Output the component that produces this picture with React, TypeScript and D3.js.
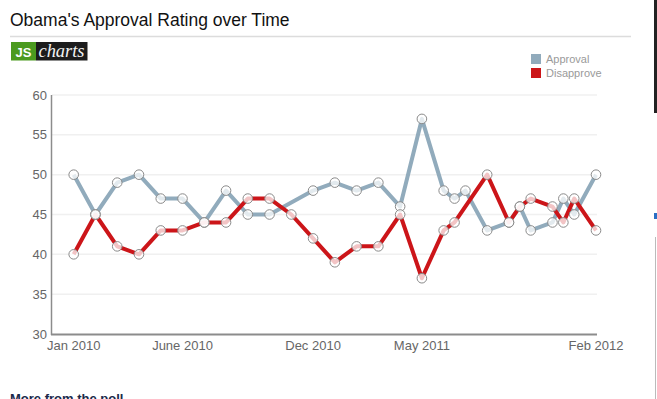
import React from "react";
import * as d3 from "d3";

// x values are month offsets from Jan 2010
const approvalX = [0, 1, 2, 3, 4, 5, 6, 7, 8, 9, 11, 12, 13, 14, 15, 16, 17, 17.5, 18, 19, 20, 20.5, 21, 22, 22.5, 23, 24];
const approvalY = [50, 45, 49, 50, 47, 47, 44, 48, 45, 45, 48, 49, 48, 49, 46, 57, 48, 47, 48, 43, 44, 46, 43, 44, 47, 45, 50];
const disapproveX = [0, 1, 2, 3, 4, 5, 6, 7, 8, 9, 10, 11, 12, 13, 14, 15, 16, 17, 17.5, 19, 20, 20.5, 21, 22, 22.5, 23, 24];
const disapproveY = [40, 45, 41, 40, 43, 43, 44, 44, 47, 47, 45, 42, 39, 41, 41, 45, 37, 43, 44, 50, 44, 46, 47, 46, 44, 47, 43];

const xTickValues = [0, 5, 11, 16, 24];
const xTickLabels = ["Jan 2010", "June 2010", "Dec 2010", "May 2011", "Feb 2012"];
const yTicks = [30, 35, 40, 45, 50, 55, 60];

const seriesNames = ["Approval", "Disapprove"];
const seriesColors = ["#91abbc", "#cc1519"];

export default function App() {
  const x = d3.scaleLinear().domain([0, 24]).range([73.7, 596]);
  const y = d3.scaleLinear().domain([30, 60]).range([334, 95]);
  const line = d3
    .line<[number, number]>()
    .x((d) => x(d[0]))
    .y((d) => y(d[1]));

  const series = [
    approvalX.map((v, i) => [v, approvalY[i]] as [number, number]),
    disapproveX.map((v, i) => [v, disapproveY[i]] as [number, number]),
  ];

  const font = "'Liberation Sans', Arial, sans-serif";

  return (
    <svg
      width={657}
      height={399}
      style={{ position: "absolute", left: 0, top: 0, background: "#fff" }}
      fontFamily={font}
    >
      {/* title */}
      <text x={10} y={26} fontSize={17.5} fill="#111">
        Obama's Approval Rating over Time
      </text>
      <line x1={10} x2={631} y1={36.5} y2={36.5} stroke="#dcdcdc" strokeWidth={1.5} />

      {/* logo */}
      <rect x={11} y={42} width={25} height={18.5} fill="#4b9a1f" />
      <rect x={36} y={42} width={51.5} height={18.5} fill="#1c1c1c" />
      <text x={23.5} y={56.5} fontSize={13} fontWeight="bold" fill="#fff" textAnchor="middle">
        JS
      </text>
      <text
        x={61.5}
        y={57}
        fontSize={18}
        fontStyle="italic"
        fill="#f2f2f2"
        textAnchor="middle"
        textLength={46}
        lengthAdjust="spacingAndGlyphs"
        fontFamily="'Liberation Serif', 'DejaVu Serif', serif"
      >
        charts
      </text>

      {/* legend */}
      {seriesNames.map((n, i) => (
        <g key={n}>
          <rect x={531} y={54 + i * 14} width={10} height={10} fill={seriesColors[i]} />
          <text x={546} y={63 + i * 14} fontSize={11} fill="#9a9a9a">
            {n}
          </text>
        </g>
      ))}

      {/* gridlines */}
      {yTicks.slice(1).map((t) => (
        <line key={t} x1={52} x2={597} y1={y(t)} y2={y(t)} stroke="#f0f0f0" strokeWidth={1.5} />
      ))}

      {/* y axis */}
      <line x1={51.5} x2={51.5} y1={y(60)} y2={y(30) + 1} stroke="#8c8c8c" strokeWidth={1.5} />
      {yTicks.map((t) => (
        <text key={t} x={47} y={y(t) + 4.5} fontSize={13} fill="#666" textAnchor="end">
          {t}
        </text>
      ))}

      {/* x axis */}
      <line x1={51} x2={597} y1={334.5} y2={334.5} stroke="#8c8c8c" strokeWidth={2} />
      {xTickValues.map((t, i) => (
        <text key={t} x={x(t)} y={350} fontSize={13} fill="#666" textAnchor="middle">
          {xTickLabels[i]}
        </text>
      ))}

      {/* lines */}
      {series.map((s, i) => (
        <path
          key={i}
          d={line(s) || ""}
          fill="none"
          stroke={seriesColors[i]}
          strokeWidth={4}
          strokeLinejoin="round"
        />
      ))}
      {series.map((s, i) => (
        <g key={"c" + i}>
          {s.map((d, j) => (
            <circle
              key={j}
              cx={x(d[0])}
              cy={y(d[1])}
              r={4.8}
              fill="#fff"
              fillOpacity={0.75}
              stroke="#8a8a8a"
              strokeWidth={1}
            />
          ))}
        </g>
      ))}

      {/* page artifacts */}
      <text x={10} y={403} fontSize={13} fontWeight="bold" fill="#1a2a4a">
        More from the poll
      </text>
      <rect x={654} y={0} width={3} height={113} fill="#222" />
      <rect x={654} y={213} width={3} height={6} fill="#2a6fc4" />
      <line x1={655.5} x2={655.5} y1={237} y2={399} stroke="#bbb" strokeWidth={1} />
    </svg>
  );
}
